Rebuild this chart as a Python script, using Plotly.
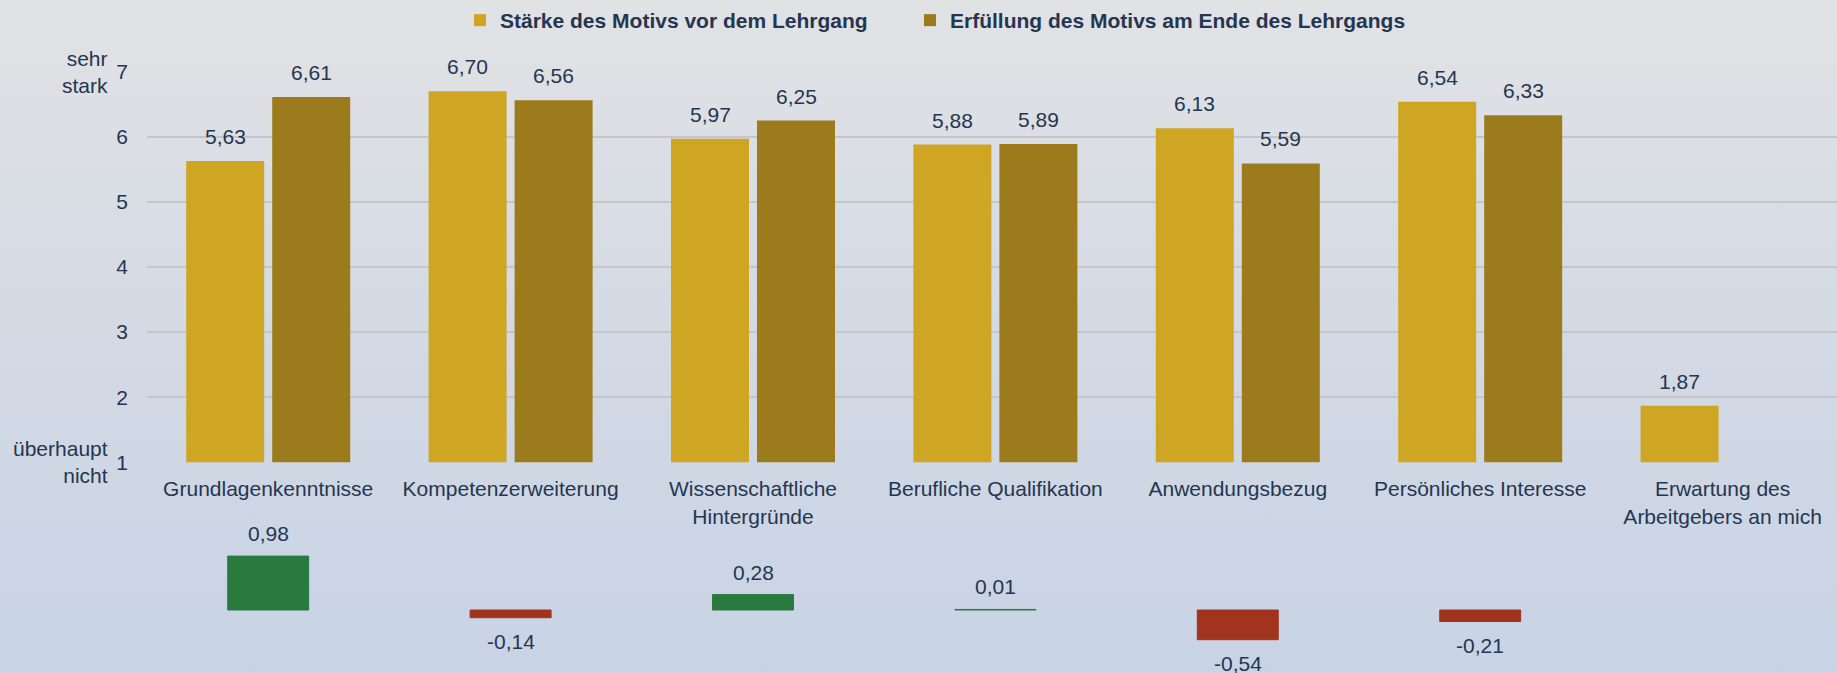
import base64
import plotly.graph_objects as go

categories = ["Grundlagenkenntnisse", "Kompetenzerweiterung", "Wissenschaftliche<br>Hintergründe",
              "Berufliche Qualifikation", "Anwendungsbezug", "Persönliches Interesse",
              "Erwartung des<br>Arbeitgebers an mich"]
staerke = [5.63, 6.70, 5.97, 5.88, 6.13, 6.54, 1.87]
erfuellung = [6.61, 6.56, 6.25, 5.89, 5.59, 6.33, None]
differenz = [0.98, -0.14, 0.28, 0.01, -0.54, -0.21, None]
y_ticks = [1, 2, 3, 4, 5, 6, 7]

GOLD = "#CFA524"
DARK = "#9B7B1C"
GREEN = "#2A7A40"
RED = "#A0341F"
TXT = "#253650"
FONT = "Liberation Sans, Arial, sans-serif"

W, H = 1837, 673
ML = 147
PW = W - ML


def fmt(v):
    return f"{v:.2f}".replace(".", ",")


diff_colors = [GREEN if (d is not None and d >= 0) else RED for d in differenz]

fig = go.Figure()
fig.add_trace(go.Bar(x=categories, y=staerke, name="Stärke des Motivs vor dem Lehrgang",
                     marker=dict(color=GOLD), xaxis="x", yaxis="y", legend="legend"))
fig.add_trace(go.Bar(x=categories, y=erfuellung, name="Erfüllung des Motivs am Ende des Lehrgangs",
                     marker=dict(color=DARK), xaxis="x", yaxis="y", legend="legend2"))
fig.add_trace(go.Bar(x=categories, y=differenz, showlegend=False, width=0.334,
                     marker=dict(color=diff_colors, line=dict(color=diff_colors, width=1)),
                     xaxis="x2", yaxis="y2"))

annotations = []
for cat, v in zip(categories, staerke):
    if v is not None:
        annotations.append(dict(x=cat, y=v, xref="x", yref="y", text=fmt(v), showarrow=False,
                                xshift=-43, yshift=11, yanchor="bottom",
                                font=dict(size=21, color=TXT, family=FONT)))
for cat, v in zip(categories, erfuellung):
    if v is not None:
        annotations.append(dict(x=cat, y=v, xref="x", yref="y", text=fmt(v), showarrow=False,
                                xshift=43, yshift=11, yanchor="bottom",
                                font=dict(size=21, color=TXT, family=FONT)))
for cat, v in zip(categories, differenz):
    if v is not None:
        annotations.append(dict(x=cat, y=v, xref="x2", yref="y2", text=fmt(v), showarrow=False,
                                yshift=9 if v >= 0 else -10, yanchor="bottom" if v >= 0 else "top",
                                font=dict(size=21, color=TXT, family=FONT)))

annotations.append(dict(x=(110 - ML) / PW, y=7, xref="paper", yref="y", text="sehr<br>stark",
                        showarrow=False, xanchor="right", yanchor="middle", align="right",
                        font=dict(size=21, color=TXT, family=FONT)))
annotations.append(dict(x=(110 - ML) / PW, y=1, xref="paper", yref="y", text="überhaupt<br>nicht",
                        showarrow=False, xanchor="right", yanchor="middle", align="right",
                        font=dict(size=21, color=TXT, family=FONT)))

svg = f'''<svg xmlns="http://www.w3.org/2000/svg" width="{W}" height="{H}" preserveAspectRatio="none">
<defs><linearGradient id="g" x1="0" y1="0" x2="0" y2="1">
<stop offset="0" stop-color="#E1E2E4"/><stop offset="0.55" stop-color="#D2D9E4"/><stop offset="1" stop-color="#C8D3E6"/>
</linearGradient></defs><rect width="{W}" height="{H}" fill="url(#g)"/></svg>'''
src = "data:image/svg+xml;base64," + base64.b64encode(svg.encode()).decode()

top_y0 = 1 - 462.3 / H
top_y1 = 1 - 71.7 / H
bot_y1 = 1 - 470 / H
ppu = 55.0
base_px = 610.0
y2_top = (base_px - 470) / ppu
y2_bot = -(H - base_px) / ppu

legend_font = dict(size=21, color=TXT, family=FONT, weight="bold")

fig.update_layout(
    template="none",
    width=W, height=H,
    margin=dict(l=ML, r=0, t=0, b=0, pad=0, autoexpand=False),
    paper_bgcolor="#D6DCE5", plot_bgcolor="rgba(0,0,0,0)",
    images=[dict(source=src, xref="paper", yref="paper", x=-ML / PW, y=1, sizex=W / PW, sizey=1,
                 sizing="stretch", layer="below", xanchor="left", yanchor="top")],
    barmode="group", bargap=0.2904, bargroupgap=0.093,
    font=dict(family=FONT, size=21, color=TXT),
    legend=dict(orientation="h", x=(460 - ML) / PW, xanchor="left", y=1, yanchor="top",
                font=legend_font, bgcolor="rgba(0,0,0,0)", borderwidth=0),
    legend2=dict(orientation="h", x=(910 - ML) / PW, xanchor="left", y=1, yanchor="top",
                 font=legend_font, bgcolor="rgba(0,0,0,0)", borderwidth=0),
    xaxis=dict(domain=[0, 1], anchor="y", range=[-0.5, 6.472], showgrid=False, zeroline=False,
               showline=False, ticks="", tickfont=dict(size=21, color=TXT), ticklabelstandoff=12,
               automargin=False),
    yaxis=dict(domain=[top_y0, top_y1], range=[1, 7], tickvals=y_ticks, showgrid=True,
               gridcolor="#C5C6C9", gridwidth=1.5, zeroline=False, showline=False, ticks="",
               tickfont=dict(size=21, color=TXT), ticklabelstandoff=18, automargin=False),
    xaxis2=dict(domain=[0, 1], anchor="y2", matches="x", visible=False, automargin=False),
    yaxis2=dict(domain=[0, bot_y1], range=[y2_bot, y2_top], visible=False, automargin=False),
    annotations=annotations,
)

fig.write_html("out.html", config={"displayModeBar": False},
               post_script="document.body.style.margin='0';document.body.style.overflow='hidden';")
